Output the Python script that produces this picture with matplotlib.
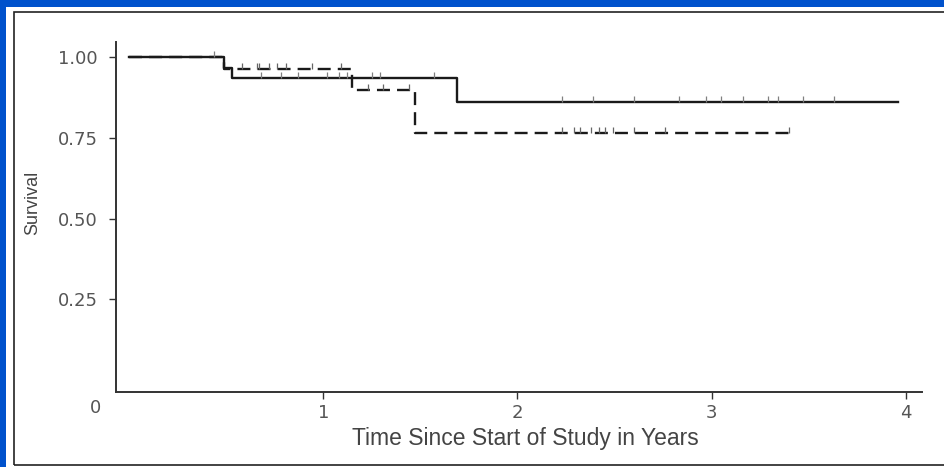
import numpy as np
import matplotlib.pyplot as plt
from matplotlib.patches import Rectangle

# Kaplan-Meier steps
solid_times = [0.0, 0.49, 0.53, 1.69, 3.96]
solid_surv = [1.0, 0.966, 0.936, 0.861, 0.861]
dashed_times = [0.0, 0.49, 1.15, 1.47, 3.40]
dashed_surv = [1.0, 0.964, 0.899, 0.765, 0.765]

# censored observations (tick marks)
solid_cens = [0.44, 0.68, 0.78, 0.87, 1.02, 1.08, 1.12, 1.25, 1.29, 1.57,
              2.23, 2.39, 2.60, 2.83, 2.97, 3.05, 3.16, 3.29, 3.34, 3.47, 3.63]
dashed_cens = [0.58, 0.66, 0.67, 0.72, 0.76, 0.81, 0.94, 1.09, 1.23, 1.31, 1.44,
               2.23, 2.29, 2.32, 2.38, 2.42, 2.45, 2.49, 2.60, 2.76, 3.40]

x_ticks = [1, 2, 3, 4]
y_ticks = [0.25, 0.50, 0.75, 1.00]
y_ticklabels = ['0.25', '0.50', '0.75', '1.00']


def surv_at(times, surv, t):
    idx = np.searchsorted(times, t, side='right') - 1
    return np.asarray(surv)[idx]


plt.rcParams['font.family'] = ['DejaVu Sans']

fig = plt.figure(figsize=(9.44, 4.67), dpi=100)
fig.patch.set_facecolor('#0052cc')

# white slide panel with a thin black frame (open on the right)
fig.patches.append(Rectangle((6 / 944, 0), 1, 1 - 7 / 467, transform=fig.transFigure,
                             facecolor='white', edgecolor='none', zorder=-10))
fig.patches.append(Rectangle((14 / 944, 2 / 467), 960 / 944, 453 / 467,
                             transform=fig.transFigure, facecolor='none',
                             edgecolor='#222222', lw=1.2, zorder=-5))

ax = fig.add_axes([116 / 944, 75 / 467, 806 / 944, 350 / 467])
ax.set_facecolor('none')
ax.set_zorder(2)

ax.step(solid_times, solid_surv, where='post', color='#1a1a1a', lw=1.7)
ax.step(dashed_times, dashed_surv, where='post', color='#1a1a1a', lw=1.7,
        dashes=(5.5, 3))

tick_marker = [(0, 0), (0, 1)]
ax.plot(solid_cens, surv_at(solid_times, solid_surv, solid_cens), ls='none',
        marker=tick_marker, ms=9, mew=0.9, color='#808080')
ax.plot(dashed_cens, surv_at(dashed_times, dashed_surv, dashed_cens), ls='none',
        marker=tick_marker, ms=9, mew=0.9, color='#666666')

ax.set_xlim(-0.067, 4.083)
ax.set_ylim(-0.037, 1.047)

for s in ['top', 'right']:
    ax.spines[s].set_visible(False)
for s in ['left', 'bottom']:
    ax.spines[s].set_linewidth(1.4)
    ax.spines[s].set_color('#333333')

ax.set_xticks(x_ticks)
ax.set_xticklabels([str(v) for v in x_ticks])
ax.set_yticks(y_ticks)
ax.set_yticklabels(y_ticklabels)
ax.tick_params(axis='both', direction='out', length=5, width=1, color='#333333',
               labelcolor='#555555', labelsize=13)
ax.tick_params(axis='x', pad=4)
ax.tick_params(axis='y', pad=8)
ax.text(-0.175, -0.087, '0', ha='center', va='center', fontsize=13,
        color='#555555', clip_on=False)

ax.set_xlabel('Time Since Start of Study in Years', fontsize=16.5, color='#444444',
              family=['Liberation Sans', 'DejaVu Sans'])
ax.xaxis.set_label_coords((525 - 116) / 806, (392 - 438) / 350)
ax.xaxis.label.set_va('center')
ax.set_ylabel('Survival', fontsize=13, color='#444444',
              family=['Liberation Sans', 'DejaVu Sans'])
ax.yaxis.set_label_coords((33 - 116) / 806, (392 - 203) / 350)
ax.yaxis.label.set_va('center')

fig.savefig('out.png', dpi=100, facecolor=fig.get_facecolor())
